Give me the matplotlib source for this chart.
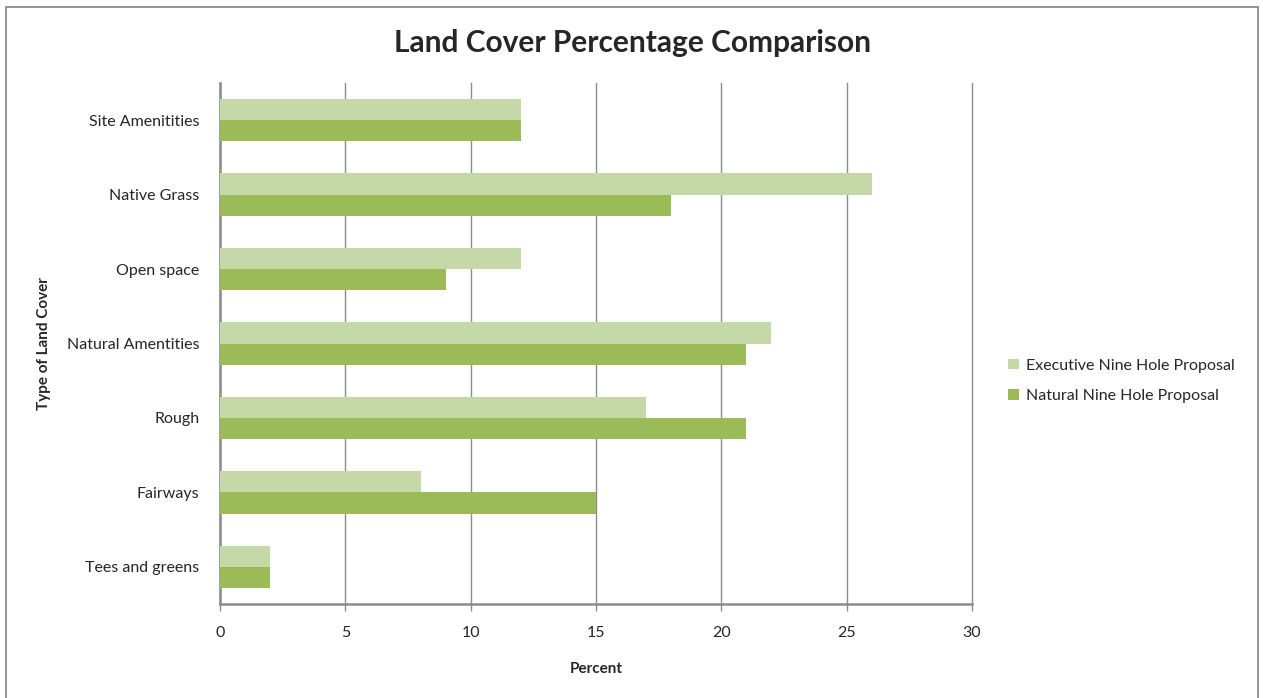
import matplotlib
matplotlib.use("Agg")
import matplotlib.pyplot as plt
from matplotlib.patches import Rectangle
import numpy as np

plt.rcParams['font.family'] = ['Lato', 'DejaVu Sans']

categories = ["Site Amenitities", "Native Grass", "Open space", "Natural Amentities",
              "Rough", "Fairways", "Tees and greens"]
executive = [12, 26, 12, 22, 17, 8, 2]
natural = [12, 18, 9, 21, 21, 15, 2]
series_names = ["Executive Nine Hole Proposal", "Natural Nine Hole Proposal"]
x_ticks = [0, 5, 10, 15, 20, 25, 30]

light_green = "#C5D8A8"
dark_green = "#9BBB59"
grid_gray = "#8C8C8C"
text_color = "#262626"

W, H = 1263, 698
fig = plt.figure(figsize=(W / 100, H / 100), dpi=100)

# outer chart frame
fig.patches.append(Rectangle((6 / W, -0.01), (1258 - 6) / W, (H - 7) / H + 0.01,
                             transform=fig.transFigure, fill=False,
                             edgecolor="#8C8C8C", linewidth=1.3))

left, right, top, bottom = 220, 972, 83, 604
ax = fig.add_axes([left / W, 1 - bottom / H, (right - left) / W, (bottom - top) / H])

n = len(categories)
pos = np.arange(n)
bar_h = 0.285
ax.barh(pos - bar_h / 2, executive, height=bar_h, color=light_green,
        label=series_names[0], zorder=3)
ax.barh(pos + bar_h / 2, natural, height=bar_h, color=dark_green,
        label=series_names[1], zorder=3)

ax.set_ylim(n - 0.5, -0.5)
ax.set_xlim(0, 30)
ax.set_xticks(x_ticks)
ax.set_xticklabels([str(t) for t in x_ticks], fontsize=11.5, color=text_color)
ax.set_yticks(pos)
ax.set_yticklabels(categories, fontsize=11.5, color=text_color)
ax.tick_params(axis="y", length=0, pad=15)
ax.tick_params(axis="x", length=5, width=1, color=grid_gray, pad=11, direction="out")

ax.grid(axis="x", color=grid_gray, linewidth=1, zorder=0)
for gl in ax.get_xgridlines():
    gl.set_clip_on(False)
for s in ["top", "right"]:
    ax.spines[s].set_visible(False)
for s in ["left", "bottom"]:
    ax.spines[s].set_color(grid_gray)
    ax.spines[s].set_linewidth(1.8)

ax.set_xlabel("Percent", fontsize=11, fontweight="bold", color=text_color, labelpad=16)
ax.set_ylabel("Type of Land Cover", fontsize=11, fontweight="bold", color=text_color)
ax.yaxis.set_label_coords((51 - left) / (right - left), 0.5)

fig.text(632 / W, 1 - 43 / H, "Land Cover Percentage Comparison", ha="center", va="center",
         fontsize=21.5, fontweight="bold", color=text_color)

leg = ax.legend(loc="center left", bbox_to_anchor=(994 / W, 1 - 381 / H),
                bbox_transform=fig.transFigure, frameon=False, fontsize=11.5,
                handlelength=0.65, handleheight=0.65, handletextpad=0.45,
                labelspacing=1.05, labelcolor=text_color)

fig.savefig("out.png", dpi=100)
